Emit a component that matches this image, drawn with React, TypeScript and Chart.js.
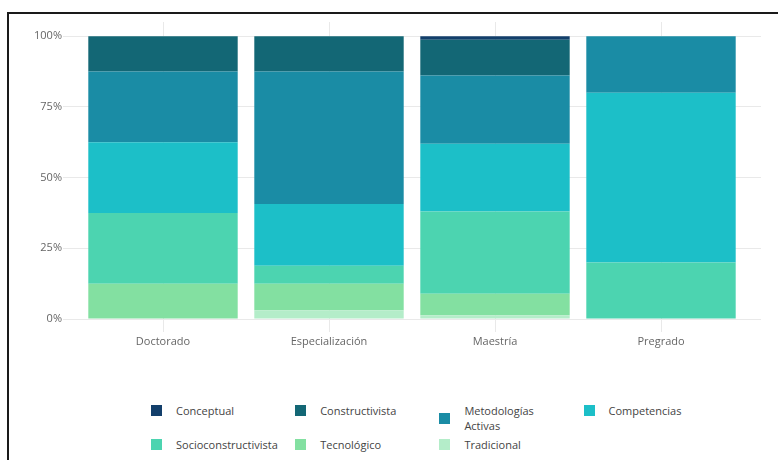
import React, { useEffect, useRef } from "react";
import { Chart, registerables } from "chart.js";

Chart.register(...registerables);

const categories = ["Doctorado", "Especialización", "Maestría", "Pregrado"];
const conceptual = [null, null, 1.3, null];
const constructivista = [12.5, 12.5, 12.6, null];
const metodologias = [25, 46.8, 24.1, 20];
const competencias = [25, 21.9, 24.0, 60];
const socioconstructivista = [25, 6.3, 29.1, 20];
const tecnologico = [12.5, 9.4, 7.6, null];
const tradicional = [null, 3.1, 1.3, null];
const yTicks = [0, 25, 50, 75, 100];

const COLORS = {
  conceptual: "#133F6B",
  constructivista: "#136775",
  metodologias: "#1A8CA5",
  competencias: "#1CBFC8",
  socio: "#4CD4B0",
  tecnologico: "#83E0A1",
  tradicional: "#B4EDC9",
};

// stacking order: first dataset at bottom
const series = [
  { label: "Tradicional", data: tradicional, color: COLORS.tradicional },
  { label: "Tecnológico", data: tecnologico, color: COLORS.tecnologico },
  { label: "Socioconstructivista", data: socioconstructivista, color: COLORS.socio },
  { label: "Competencias", data: competencias, color: COLORS.competencias },
  { label: "Metodologías Activas", data: metodologias, color: COLORS.metodologias },
  { label: "Constructivista", data: constructivista, color: COLORS.constructivista },
  { label: "Conceptual", data: conceptual, color: COLORS.conceptual },
];

const legendItems = [
  { label: "Conceptual", color: COLORS.conceptual },
  { label: "Constructivista", color: COLORS.constructivista },
  { label: "Metodologías Activas", color: COLORS.metodologias, wrap: true },
  { label: "Competencias", color: COLORS.competencias },
  { label: "Socioconstructivista", color: COLORS.socio },
  { label: "Tecnológico", color: COLORS.tecnologico },
  { label: "Tradicional", color: COLORS.tradicional },
];

const GRID = "#e9e9e9";
const FONT = "'Open Sans', 'Noto Sans', sans-serif";

export default function App() {
  const ref = useRef<HTMLCanvasElement | null>(null);

  useEffect(() => {
    if (!ref.current) return;
    const filterTicks = (scale: any) => {
      scale.ticks = yTicks.map((v) => ({ value: v }));
    };
    const chart = new Chart(ref.current, {
      type: "bar",
      data: {
        labels: categories,
        datasets: series.map((s) => ({
          label: s.label,
          data: s.data,
          backgroundColor: s.color,
          borderWidth: 0,
          categoryPercentage: 1,
          barPercentage: 0.9,
          stack: "s",
        })),
      },
      options: {
        animation: false,
        responsive: false,
        maintainAspectRatio: false,
        layout: { padding: { top: 22, right: 17, left: 0, bottom: 0 } },
        plugins: { legend: { display: false }, tooltip: { enabled: false } },
        scales: {
          x: {
            stacked: true,
            grid: { offset: false, color: GRID, tickLength: 13, tickColor: GRID },
            border: { display: false },
            ticks: { color: "#666", font: { family: FONT, size: 11 }, padding: 3 },
            afterFit: (s: any) => { s.height = 41; },
          },
          y: {
            stacked: true,
            min: 0,
            max: 105,
            afterBuildTicks: filterTicks,
            grid: { color: GRID, tickLength: 17, tickColor: GRID },
            border: { display: false },
            ticks: {
              color: "#666",
              font: { family: FONT, size: 11 },
              padding: 1,
              callback: (v: any) => v + "%",
            },
            afterFit: (s: any) => { s.width = 80; },
          },
          y2: {
            position: "right",
            min: 0,
            max: 105,
            afterBuildTicks: filterTicks,
            grid: { color: GRID, tickLength: 17, tickColor: GRID, drawOnChartArea: false },
            border: { display: false },
            ticks: { display: false },
            afterFit: (s: any) => { s.width = 17; },
          },
        },
      },
    });
    return () => chart.destroy();
  }, []);

  return (
    <div
      style={{
        position: "fixed",
        left: 0,
        top: 0,
        width: 778,
        height: 460,
        background: "#fff",
        overflow: "hidden",
        fontFamily: FONT,
      }}
    >
      <div
        style={{
          position: "absolute",
          left: 7,
          top: 12,
          width: 800,
          height: 480,
          borderTop: "2px solid #1a1a1a",
          borderLeft: "2px solid #1a1a1a",
        }}
      />
      <canvas
        ref={ref}
        width={778}
        height={360}
        style={{ position: "absolute", left: 0, top: 0, width: 778, height: 360 }}
      />
      <div
        style={{
          position: "absolute",
          left: 151,
          top: 403,
          display: "grid",
          gridTemplateColumns: "repeat(4, 144.2px)",
          gridTemplateRows: "33.5px 15px",
        }}
      >
        {legendItems.map((it) => (
          <div
            key={it.label}
            style={{ display: "flex", alignItems: "center", alignSelf: "start" }}
          >
            <span
              style={{
                width: 11,
                height: 11,
                background: it.color,
                flex: "0 0 11px",
                marginRight: 14,
              }}
            />
            <span
              style={{
                fontSize: 11,
                lineHeight: "15px",
                color: "#444",
                maxWidth: it.wrap ? 80 : undefined,
                whiteSpace: it.wrap ? "normal" : "nowrap",
              }}
            >
              {it.label}
            </span>
          </div>
        ))}
      </div>
    </div>
  );
}
